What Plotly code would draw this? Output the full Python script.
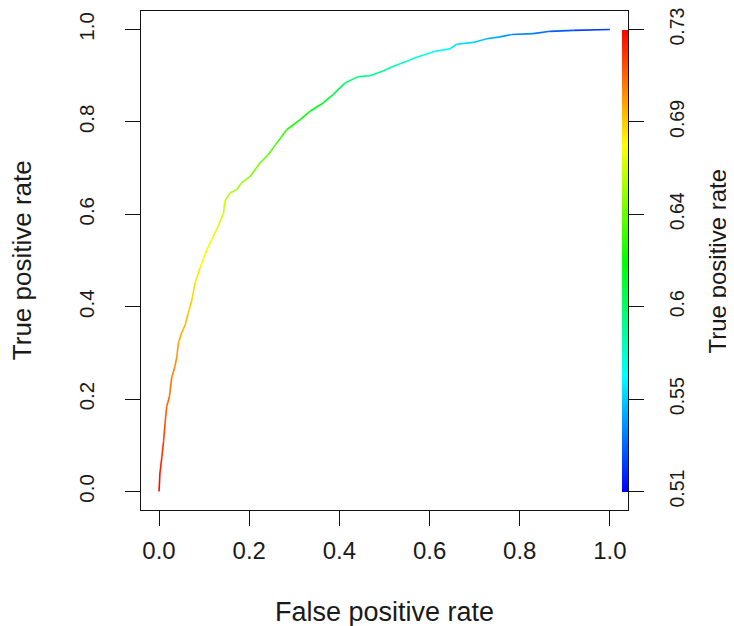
import plotly.graph_objects as go
from plotly.colors import sample_colorscale

# ROC curve points
fpr = [0.000, 0.002, 0.006, 0.010, 0.013, 0.017, 0.023, 0.028, 0.035, 0.039,
       0.043, 0.050, 0.058, 0.065, 0.073, 0.080, 0.091, 0.106, 0.120, 0.131,
       0.143, 0.146, 0.157, 0.172, 0.183, 0.202, 0.224, 0.242, 0.261, 0.283,
       0.313, 0.335, 0.364, 0.386, 0.412, 0.442, 0.468, 0.497, 0.516, 0.549,
       0.568, 0.590, 0.612, 0.645, 0.660, 0.697, 0.727, 0.756, 0.782, 0.830,
       0.867, 0.919, 1.000]
tpr = [0.000, 0.040, 0.073, 0.108, 0.144, 0.184, 0.205, 0.246, 0.270, 0.289,
       0.322, 0.343, 0.361, 0.387, 0.415, 0.452, 0.484, 0.523, 0.552, 0.574,
       0.603, 0.628, 0.646, 0.653, 0.668, 0.682, 0.711, 0.729, 0.754, 0.783,
       0.805, 0.823, 0.841, 0.859, 0.884, 0.898, 0.900, 0.910, 0.919, 0.931,
       0.939, 0.946, 0.953, 0.958, 0.968, 0.972, 0.980, 0.984, 0.989, 0.991,
       0.996, 0.998, 1.000]
cutoff = [0.730, 0.725, 0.721, 0.717, 0.713, 0.709, 0.707, 0.703, 0.700, 0.698,
          0.695, 0.693, 0.691, 0.688, 0.685, 0.681, 0.678, 0.674, 0.671, 0.668,
          0.664, 0.660, 0.657, 0.655, 0.652, 0.649, 0.644, 0.640, 0.635, 0.629,
          0.623, 0.617, 0.611, 0.605, 0.598, 0.593, 0.590, 0.586, 0.582, 0.577,
          0.573, 0.570, 0.566, 0.563, 0.559, 0.555, 0.550, 0.546, 0.541, 0.537,
          0.532, 0.527, 0.520]

cut_min, cut_max = 0.51, 0.73
axis_ticks = [0.0, 0.2, 0.4, 0.6, 0.8, 1.0]
cbar_tick_labels = ["0.51", "0.55", "0.6", "0.64", "0.69", "0.73"]

rainbow = [[0.0, "rgb(0,0,255)"], [0.25, "rgb(0,255,255)"], [0.5, "rgb(0,255,0)"],
           [0.75, "rgb(255,255,0)"], [1.0, "rgb(255,0,0)"]]

FONT = "Liberation Sans, Arial, sans-serif"
TXT = "#1a1a1a"

fig = go.Figure()

for i in range(len(fpr) - 1):
    c = 0.5 * (cutoff[i] + cutoff[i + 1])
    col = sample_colorscale(rainbow, [(c - cut_min) / (cut_max - cut_min)])[0]
    fig.add_trace(go.Scatter(x=[fpr[i], fpr[i + 1]], y=[tpr[i], tpr[i + 1]],
                             mode="lines", line=dict(color=col, width=1.6),
                             showlegend=False, hoverinfo="skip"))

# invisible trace carrying the colour bar, on the right axis
fig.add_trace(go.Scatter(
    x=fpr, y=tpr, yaxis="y2", mode="markers", showlegend=False, hoverinfo="skip",
    marker=dict(size=1, opacity=0, color=cutoff, cmin=cut_min, cmax=cut_max,
                colorscale=rainbow, showscale=True,
                colorbar=dict(x=0.9877, xanchor="left", xpad=0, ypad=0,
                              y=0.04 / 1.08, yanchor="bottom", len=1 / 1.08,
                              lenmode="fraction", thickness=6, outlinewidth=0,
                              ticks="", showticklabels=False))))

axis_common = dict(range=[-0.04, 1.04], showgrid=False, zeroline=False,
                   ticks="outside", ticklen=15, tickwidth=1.3, tickcolor="#111",
                   automargin=False, ticklabeloverflow="allow")

fig.update_layout(
    width=726, height=618,
    margin=dict(l=133, r=106, t=3, b=116, autoexpand=False),
    paper_bgcolor="white", plot_bgcolor="white",
    xaxis=dict(**axis_common, tickvals=axis_ticks, tickformat=".1f",
               showline=True, mirror=True, linecolor="#111", linewidth=1.3,
               ticklabelstandoff=4, tickfont=dict(family=FONT, size=24, color=TXT)),
    yaxis=dict(**axis_common, tickvals=axis_ticks, tickformat=".1f",
               showline=True, mirror=True, linecolor="#111", linewidth=1.3,
               tickangle=-90, ticklabelstandoff=23,
               tickfont=dict(family=FONT, size=20.5, color=TXT)),
    yaxis2=dict(**axis_common, overlaying="y", side="right", anchor="x",
                tickvals=axis_ticks, ticktext=cbar_tick_labels, tickangle=-90,
                showline=False, ticklabelstandoff=17,
                tickfont=dict(family=FONT, size=19.5, color=TXT)),
    annotations=[
        dict(text="False positive rate", xref="paper", yref="paper", x=0.5, y=-0.205,
             xanchor="center", yanchor="middle", showarrow=False,
             font=dict(family=FONT, size=27, color=TXT)),
        dict(text="True positive rate", xref="paper", yref="paper", x=-0.245, y=0.5,
             xanchor="center", yanchor="middle", textangle=-90, showarrow=False,
             font=dict(family=FONT, size=26, color=TXT)),
        dict(text="True positive rate", xref="paper", yref="paper", x=1.1848, y=0.5,
             xanchor="center", yanchor="middle", textangle=-90, showarrow=False,
             font=dict(family=FONT, size=24, color=TXT)),
    ],
)

fig.write_html("out.html")
